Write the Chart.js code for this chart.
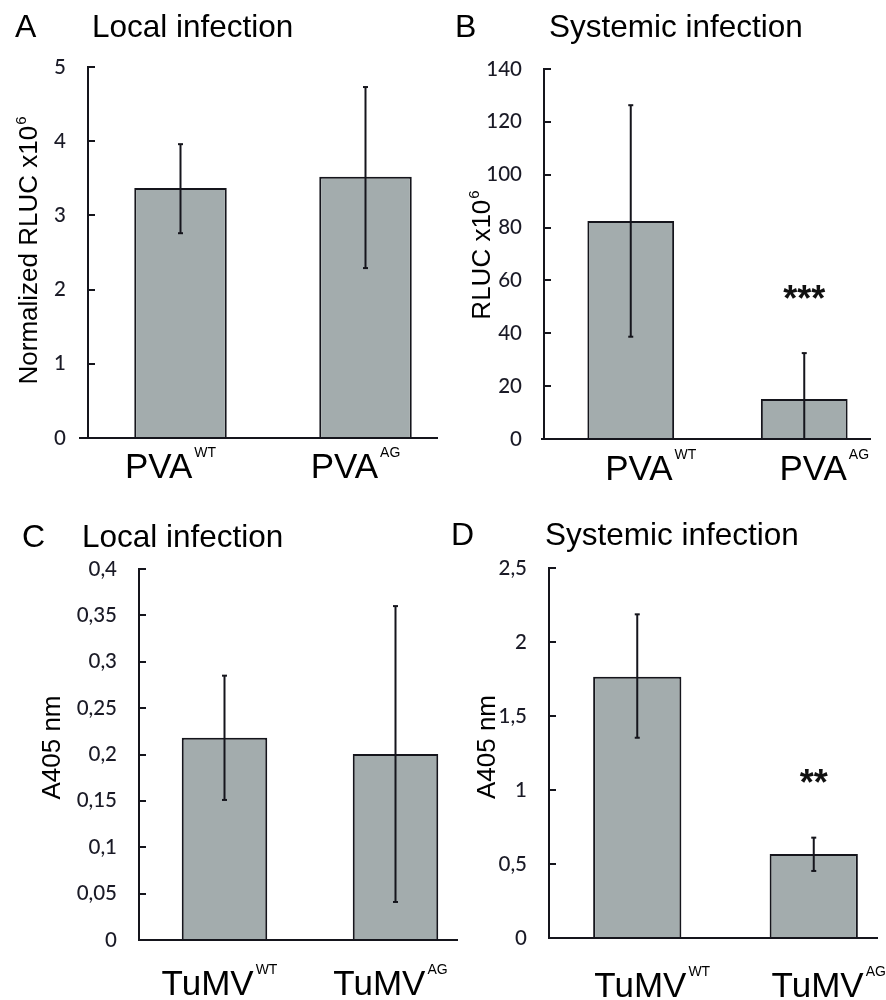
<!DOCTYPE html>
<html>
<head>
<meta charset="utf-8">
<script src="https://cdn.jsdelivr.net/npm/chart.js@4.4.1/dist/chart.umd.min.js"></script>
<style>
  html, body { margin: 0; padding: 0; background: #fff; width: 886px; height: 1000px; overflow: hidden; }
  .panel { position: absolute; }
  canvas { display: block; }
</style>
</head>
<body>
<div class="panel" style="left:0px;top:0px;"><canvas id="panelA" width="470" height="500"></canvas></div>
<div class="panel" style="left:443px;top:0px;"><canvas id="panelB" width="448" height="500"></canvas></div>
<div class="panel" style="left:0px;top:500px;"><canvas id="panelC" width="490" height="500"></canvas></div>
<div class="panel" style="left:443px;top:500px;"><canvas id="panelD" width="460" height="500"></canvas></div>
<script>
// ---------- data ----------
const pvaNames = ['PVA', 'PVA'];
const tumvNames = ['TuMV', 'TuMV'];
const variantSup = ['WT', 'AG'];

const localPvaMean = [3.37, 3.52];
const localPvaLow  = [2.76, 2.29];
const localPvaHigh = [3.96, 4.73];

const systPvaMean = [82.5, 15.1];
const systPvaLow  = [38.7, 0];
const systPvaHigh = [126.3, 32.5];
const systPvaSig  = ['', '***'];
const systPvaSigAt = [null, 55.8];

const localTumvMean = [0.218, 0.2005];
const localTumvLow  = [0.151, 0.041];
const localTumvHigh = [0.285, 0.360];

const systTumvMean = [1.766, 0.568];
const systTumvLow  = [1.353, 0.453];
const systTumvHigh = [2.187, 0.678];
const systTumvSig  = ['', '**'];
const systTumvSigAt = [null, 1.095];

const yMaxA = 5,   yStepA = 1;
const yMaxB = 140, yStepB = 20;
const yMaxC = 0.4, yStepC = 0.05;
const yMaxD = 2.5, yStepD = 0.5;

// ---------- style ----------
const BAR_FILL = '#A3ACAD';
const INK = '#15151c';
const TICK_INK = '#1a1a26';
const SANS = '"Liberation Sans", Arial, sans-serif';

const decor = {
  id: 'decor',
  afterDatasetsDraw(chart, args, o) {
    const ctx = chart.ctx, xs = chart.scales.x, ys = chart.scales.y, ca = chart.chartArea;
    ctx.save();
    // error bars
    ctx.strokeStyle = INK;
    ctx.lineWidth = 2;
    ctx.lineCap = 'butt';
    o.low.forEach((lo, i) => {
      const xc = xs.getPixelForValue(i);
      const yl = ys.getPixelForValue(lo);
      const yh = ys.getPixelForValue(o.high[i]);
      ctx.beginPath(); ctx.moveTo(xc, yl); ctx.lineTo(xc, yh); ctx.stroke();
      ctx.beginPath(); ctx.moveTo(xc - 2.5, yh); ctx.lineTo(xc + 2.5, yh); ctx.stroke();
      ctx.beginPath(); ctx.moveTo(xc - 2.5, yl); ctx.lineTo(xc + 2.5, yl); ctx.stroke();
    });
    // x axis line
    const y0 = ys.getPixelForValue(0);
    ctx.lineWidth = 2.2;
    ctx.beginPath();
    ctx.moveTo(ca.left - o.axisExt, y0);
    ctx.lineTo(ca.right - o.axisInset, y0);
    ctx.stroke();
    // significance marks
    ctx.fillStyle = '#111';
    if (o.sig) {
      ctx.font = 'bold 36px ' + SANS;
      ctx.textAlign = 'center';
      ctx.textBaseline = 'alphabetic';
      o.sig.forEach((s, i) => {
        if (!s) return;
        const m = ctx.measureText(s);
        const yc = ys.getPixelForValue(o.sigAt[i]);
        const base = yc + (m.actualBoundingBoxAscent - m.actualBoundingBoxDescent) / 2;
        ctx.fillText(s, xs.getPixelForValue(i), base);
      });
    }
    // category labels with superscripts
    ctx.fillStyle = '#000';
    ctx.textAlign = 'left';
    ctx.textBaseline = 'alphabetic';
    o.names.forEach((nm, i) => {
      const xc = xs.getPixelForValue(i) + o.labelShift;
      ctx.font = '35px ' + SANS;
      const w1 = ctx.measureText(nm).width;
      ctx.font = '14px ' + SANS;
      const w2 = ctx.measureText(o.sups[i]).width;
      const gap = 2;
      const x0 = xc - (w1 + gap + w2) / 2;
      const yb = ca.bottom + o.labelDrop;
      ctx.font = '35px ' + SANS;
      ctx.fillText(nm, x0, yb);
      ctx.font = '14px ' + SANS;
      ctx.fillText(o.sups[i], x0 + w1 + gap, yb - 21);
    });
    // y axis title (rotated, optional superscript)
    ctx.save();
    const yMid = (ca.top + ca.bottom) / 2 + o.titleShift;
    ctx.translate(o.yTitleX, yMid);
    ctx.rotate(-Math.PI / 2);
    ctx.font = '26px ' + SANS;
    const t1 = ctx.measureText(o.yTitle).width;
    let t2 = 0;
    if (o.yTitleSup) { ctx.font = '15px ' + SANS; t2 = ctx.measureText(o.yTitleSup).width + 1; }
    const sx = -(t1 + t2) / 2;
    ctx.font = '26px ' + SANS;
    ctx.fillText(o.yTitle, sx, 0);
    if (o.yTitleSup) { ctx.font = '15px ' + SANS; ctx.fillText(o.yTitleSup, sx + t1 + 1, -11); }
    ctx.restore();
    // panel letter and heading
    ctx.font = '32px ' + SANS;
    ctx.fillText(o.letter, o.letterX, o.headY);
    ctx.font = '31.5px ' + SANS;
    ctx.fillText(o.heading, o.headX, o.headY);
    ctx.restore();
  }
};

function fmtTick(v) { return String(v).replace('.', ','); }

function makePanel(id, p) {
  return new Chart(document.getElementById(id), {
    type: 'bar',
    data: {
      labels: p.names.map((n, i) => n + p.sups[i]),
      datasets: [{
        data: p.mean,
        backgroundColor: BAR_FILL,
        borderColor: INK,
        borderWidth: 2,
        borderSkipped: 'bottom',
        barPercentage: 1,
        categoryPercentage: 0.5
      }]
    },
    options: {
      responsive: false,
      animation: false,
      devicePixelRatio: 1,
      layout: { padding: { left: 0, right: p.padRight, top: p.padTop, bottom: p.padBottom } },
      plugins: {
        legend: { display: false },
        tooltip: { enabled: false },
        decor: {
          low: p.low, high: p.high, sig: p.sig, sigAt: p.sigAt,
          names: p.names, sups: p.sups, labelShift: p.labelShift, labelDrop: p.labelDrop,
          axisExt: p.axisExt, axisInset: p.axisInset,
          yTitle: p.yTitle, yTitleSup: p.yTitleSup, yTitleX: p.yTitleX, titleShift: p.titleShift,
          letter: p.letter, letterX: p.letterX, heading: p.heading, headX: p.headX, headY: p.headY
        }
      },
      scales: {
        x: {
          type: 'category',
          offset: true,
          grid: { display: false },
          border: { display: false },
          ticks: { display: false },
          afterFit: s => { s.height = 0; }
        },
        y: {
          min: 0,
          max: p.yMax,
          ticks: {
            stepSize: p.yStep,
            padding: 29,
            color: TICK_INK,
            font: { family: 'Lato', size: 20.5, weight: '500' },
            callback: fmtTick
          },
          grid: { drawOnChartArea: false, drawTicks: true, tickLength: -7, color: INK, lineWidth: 2 },
          border: { display: true, color: INK, width: 2 },
          afterFit: s => { s.width = p.axisLeft; }
        }
      }
    },
    plugins: [decor]
  });
}

makePanel('panelA', {
  names: pvaNames, sups: variantSup, mean: localPvaMean, low: localPvaLow, high: localPvaHigh,
  yMax: yMaxA, yStep: yStepA, axisLeft: 88, padRight: 12, padTop: 67, padBottom: 62,
  labelShift: -10, labelDrop: 40, axisExt: 9, axisInset: 20,
  yTitle: 'Normalized RLUC x10', yTitleSup: '6', yTitleX: 37, titleShift: -2,
  letter: 'A', letterX: 15, heading: 'Local infection', headX: 92, headY: 37
});
makePanel('panelB', {
  names: pvaNames, sups: variantSup, mean: systPvaMean, low: systPvaLow, high: systPvaHigh,
  sig: systPvaSig, sigAt: systPvaSigAt,
  yMax: yMaxB, yStep: yStepB, axisLeft: 101, padRight: 0, padTop: 69, padBottom: 61,
  labelShift: 20, labelDrop: 41, axisExt: 3, axisInset: 20,
  yTitle: 'RLUC x10', yTitleSup: '6', yTitleX: 47, titleShift: 1,
  letter: 'B', letterX: 12, heading: 'Systemic infection', headX: 106, headY: 37
});
makePanel('panelC', {
  names: tumvNames, sups: variantSup, mean: localTumvMean, low: localTumvLow, high: localTumvHigh,
  yMax: yMaxC, yStep: yStepC, axisLeft: 139, padRight: 9, padTop: 69, padBottom: 60,
  labelShift: -5, labelDrop: 55, axisExt: 1, axisInset: 23,
  yTitle: 'A405 nm', yTitleSup: '', yTitleX: 60, titleShift: -7,
  letter: 'C', letterX: 22, heading: 'Local infection', headX: 82, headY: 47
});
makePanel('panelD', {
  names: tumvNames, sups: variantSup, mean: systTumvMean, low: systTumvLow, high: systTumvHigh,
  sig: systTumvSig, sigAt: systTumvSigAt,
  yMax: yMaxD, yStep: yStepD, axisLeft: 106, padRight: 1, padTop: 68, padBottom: 62,
  labelShift: 15, labelDrop: 59, axisExt: 0, axisInset: 24,
  yTitle: 'A405 nm', yTitleSup: '', yTitleX: 52, titleShift: -6,
  letter: 'D', letterX: 8, heading: 'Systemic infection', headX: 102, headY: 45
});
</script>
</body>
</html>
